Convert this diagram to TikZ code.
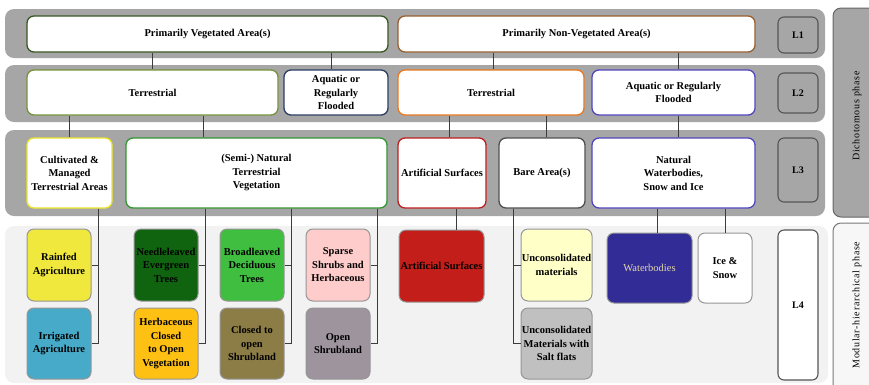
\documentclass[tikz,border=0pt]{standalone}
\usepackage{fontspec}
\setmainfont{Liberation Serif}
\newfontfamily\phasefont[LetterSpace=7]{Liberation Serif}
\usetikzlibrary{calc}

% band and frame colours
\definecolor{bandgrey}{RGB}{166,166,166}
\definecolor{bandlight}{RGB}{242,242,242}
\definecolor{framedark}{RGB}{85,85,85}
\definecolor{wire}{RGB}{60,60,60}
% class border colours
\definecolor{vegline}{RGB}{56,87,35}
\definecolor{nonvegline}{RGB}{152,96,48}
\definecolor{terrvline}{RGB}{118,146,60}
\definecolor{aquavline}{RGB}{44,62,100}
\definecolor{terrnline}{RGB}{233,120,30}
\definecolor{aquanline}{RGB}{80,70,190}
\definecolor{cultline}{RGB}{235,230,40}
\definecolor{semiline}{RGB}{50,150,50}
\definecolor{artline}{RGB}{190,30,30}
\definecolor{bareline}{RGB}{80,80,80}
\definecolor{leafline}{RGB}{150,150,150}
% leaf class fills
\definecolor{cRain}{RGB}{240,232,60}
\definecolor{cIrr}{RGB}{70,170,200}
\definecolor{cNeedle}{RGB}{16,100,16}
\definecolor{cHerb}{RGB}{255,192,20}
\definecolor{cBroad}{RGB}{64,190,64}
\definecolor{cClosed}{RGB}{140,125,70}
\definecolor{cSparse}{RGB}{255,204,204}
\definecolor{cOpen}{RGB}{158,148,158}
\definecolor{cArt}{RGB}{195,30,25}
\definecolor{cUncon}{RGB}{255,255,200}
\definecolor{cSalt}{RGB}{192,192,192}
\definecolor{cWater}{RGB}{50,45,150}
\definecolor{cWaterText}{RGB}{230,215,170}

\tikzset{
  band/.style={rounded corners=9pt, draw=none},
  classbox/.style={rounded corners=7pt, line width=1.3pt, fill=white,
    inner sep=0pt, align=center,
    font=\fontsize{10.5}{13.5}\selectfont\bfseries},
  leafbox/.style={classbox, draw=leafline, line width=1pt},
  levelbox/.style={rounded corners=6pt, line width=1.1pt, draw=framedark,
    fill=bandgrey, inner sep=0pt, minimum width=40pt,
    font=\fontsize{10}{12}\selectfont\bfseries},
  phasebox/.style={rounded corners=8pt, line width=1pt},
  phasetext/.style={rotate=90, font=\fontsize{10}{12}\selectfont\phasefont},
  link/.style={draw=wire, line width=1pt},
}

\begin{document}
\begin{tikzpicture}[x=1pt,y=-1pt]
\useasboundingbox (0,0) rectangle (869,384);

% level bands
\fill[band, bandgrey] (5,9) rectangle (825,58);
\fill[band, bandgrey] (5,65) rectangle (825,122);
\fill[band, bandgrey] (5,130) rectangle (825,216);
\fill[band, bandlight] (5,226) rectangle (828,383);

% phase panels on the right
\draw[phasebox, draw=framedark!90, fill=bandgrey] (833,8) rectangle (885,217);
\draw[phasebox, draw=leafline!80!black, fill=bandlight!60!white] (833,223) rectangle (885,395);
\node[phasetext] (dich) at (857,116) {Dichotomous phase};
\node[phasetext] (modh) at (857,305) {Modular-hierarchical phase};

% level markers
\node[levelbox, minimum height=36pt] (L1) at (798,35) {L1};
\node[levelbox, minimum height=40pt] (L2) at (798,93) {L2};
\node[levelbox, minimum height=64pt] (L3) at (798,170) {L3};
\node[levelbox, minimum height=150pt, fill=white] (L4) at (798,305) {L4};

% level 1
\node[classbox, draw=vegline, minimum width=361pt, minimum height=36pt] (pv) at (207.5,34) {Primarily Vegetated Area(s)};
\node[classbox, draw=nonvegline, minimum width=357pt, minimum height=36pt] (pnv) at (576.5,34) {Primarily Non-Vegetated Area(s)};

% level 2
\node[classbox, draw=terrvline, minimum width=251pt, minimum height=45pt] (terv) at (152.5,92.5) {Terrestrial};
\node[classbox, draw=aquavline, minimum width=104pt, minimum height=45pt] (aqv) at (336,92.5) {Aquatic or\\Regularly\\Flooded};
\node[classbox, draw=terrnline, minimum width=186pt, minimum height=45pt] (tern) at (491,92.5) {Terrestrial};
\node[classbox, draw=aquanline, minimum width=163pt, minimum height=45pt] (aqn) at (673.5,92.5) {Aquatic or Regularly\\Flooded};

% level 3
\node[classbox, draw=cultline, minimum width=85pt, minimum height=70pt] (cult) at (69.5,173) {Cultivated \&\\Managed\\Terrestrial Areas};
\node[classbox, draw=semiline, minimum width=261pt, minimum height=70pt] (semi) at (256.5,173) {(Semi-) Natural\\Terrestrial\\Vegetation};
\node[classbox, draw=artline, minimum width=88pt, minimum height=70pt] (arts) at (442,173) {Artificial Surfaces};
\node[classbox, draw=bareline, minimum width=86pt, minimum height=70pt] (bare) at (542,173) {Bare Area(s)};
\node[classbox, draw=aquanline, minimum width=163pt, minimum height=70pt] (natw) at (673.5,173) {Natural\\Waterbodies,\\Snow and Ice};

% level 4
\node[leafbox, fill=cRain, minimum width=64pt, minimum height=72pt] (rain) at (59,265) {Rainfed\\Agriculture};
\node[leafbox, fill=cIrr, minimum width=64pt, minimum height=71pt] (irr) at (59,343.5) {Irrigated\\Agriculture};
\node[leafbox, fill=cNeedle, minimum width=64pt, minimum height=72pt] (needle) at (166,265) {Needleleaved\\Evergreen\\Trees};
\node[leafbox, fill=cHerb, minimum width=64pt, minimum height=71pt] (herb) at (166,343.5) {Herbaceous\\Closed\\to Open\\Vegetation};
\node[leafbox, fill=cBroad, minimum width=64pt, minimum height=72pt] (broad) at (252,265) {Broadleaved\\Deciduous\\Trees};
\node[leafbox, fill=cClosed, minimum width=64pt, minimum height=71pt] (closed) at (252,343.5) {Closed to\\open\\Shrubland};
\node[leafbox, fill=cSparse, minimum width=64pt, minimum height=72pt] (sparse) at (338,265) {Sparse\\Shrubs and\\Herbaceous};
\node[leafbox, fill=cOpen, minimum width=64pt, minimum height=71pt] (open) at (338,343.5) {Open\\Shrubland};
\node[leafbox, fill=cArt, minimum width=85pt, minimum height=72pt] (art4) at (441.5,266) {Artificial Surfaces};
\node[leafbox, fill=cUncon, minimum width=71pt, minimum height=72pt] (uncon) at (556.5,265) {Unconsolidated\\materials};
\node[leafbox, fill=cSalt, minimum width=71pt, minimum height=71pt] (salt) at (556.5,343.5) {Unconsolidated\\Materials with\\Salt flats};
\node[leafbox, fill=cWater, minimum width=85pt, minimum height=70pt,
      font=\fontsize{10.5}{13.5}\selectfont, text=cWaterText] (water) at (649.5,268) {Waterbodies};
\node[leafbox, minimum width=54pt, minimum height=70pt] (ice) at (725,268) {Ice \&\\Snow};

% links level 1 -> level 2
\draw[link] (terv.north) -- (terv.north |- pv.south);
\draw[link] ([xshift=-5pt]aqv.north) -- ([xshift=-5pt]aqv.north |- pv.south);
\draw[link] ([xshift=2pt]tern.north) -- ([xshift=2pt]tern.north |- pnv.south);
\draw[link] ([xshift=4.5pt]aqn.north) -- ([xshift=4.5pt]aqn.north |- pnv.south);

% links level 2 -> level 3
\draw[link] (cult.north) -- (cult.north |- terv.south);
\draw[link] ([xshift=-53.5pt]semi.north) -- ([xshift=-53.5pt]semi.north |- terv.south);
\draw[link] ([xshift=7pt]arts.north) -- ([xshift=7pt]arts.north |- tern.south);
\draw[link] ([xshift=4pt]bare.north) -- ([xshift=4pt]bare.north |- tern.south);
\draw[link] ([xshift=4.5pt]natw.north) -- ([xshift=4.5pt]natw.north |- aqn.south);

% links level 3 -> level 4
\draw[link] ([xshift=28.5pt]cult.south) |- (rain.east);
\draw[link] ([xshift=28.5pt]cult.south) |- (irr.east);
\draw[link] ([xshift=-51.5pt]semi.south) |- (needle.east);
\draw[link] ([xshift=-51.5pt]semi.south) |- (herb.east);
\draw[link] ([xshift=34.5pt]semi.south) |- (broad.east);
\draw[link] ([xshift=34.5pt]semi.south) |- (closed.east);
\draw[link] ([xshift=120.5pt]semi.south) |- (sparse.east);
\draw[link] ([xshift=120.5pt]semi.south) |- (open.east);
\draw[link] ([xshift=14pt]arts.south) -- ([xshift=14pt]arts.south |- art4.north);
\draw[link] ([xshift=-29pt]bare.south) |- (uncon.west);
\draw[link] ([xshift=-29pt]bare.south) |- (salt.west);
\draw[link] ([xshift=-16.5pt]natw.south) -- ([xshift=-16.5pt]natw.south |- water.north);
\draw[link] (ice.north) -- (ice.north |- natw.south);
\end{tikzpicture}
\end{document}
